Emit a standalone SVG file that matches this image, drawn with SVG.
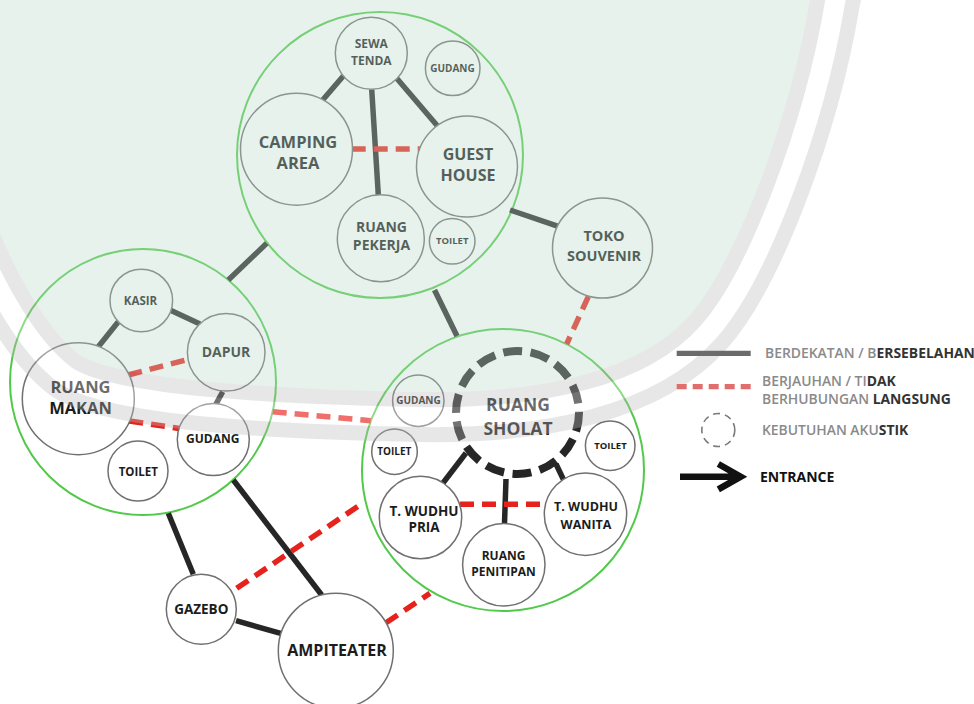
<svg xmlns="http://www.w3.org/2000/svg" width="974" height="704" viewBox="0 0 974 704">
<defs>
<style>
.lbl{font-family:"Open Sans","Liberation Sans",sans-serif;font-weight:700;fill:#1c1c1c;text-anchor:middle}
.node circle{fill:#ffffff;stroke:#707070;stroke-width:1.5}
.cluster{fill:none;stroke:#52c94a;stroke-width:2}
.solid{stroke:#262626;stroke-width:5.5;fill:none}
.dash{stroke:#e6221c;stroke-width:5.5;stroke-dasharray:14 8;fill:none}
.leg{font-family:"Open Sans","Liberation Sans",sans-serif;font-size:13.9px}
.lg{fill:#8a8a8a;font-weight:600}
.ld{fill:#333333;font-weight:700}
</style>
<path id="seal" d="M 830,-100 L -200,-100 L -200,0 L -60,0 C -45,150 20,310 80,355 C 120,382 300,390 420,392 C 540,394 640,372 690,315 C 735,264 790,120 810,0 Z"/>
</defs>
<rect width="974" height="704" fill="#ffffff"/>

<g id="clusters">
<circle class="cluster" cx="380" cy="155" r="143"/>
<circle class="cluster" cx="143" cy="382" r="133"/>
<circle class="cluster" cx="503" cy="470" r="141"/>
</g>

<g id="connectors">
<line class="solid" x1="343.3" y1="76" x2="322.7" y2="100"/>
<line class="solid" x1="371.7" y1="89.3" x2="378.3" y2="195"/>
<line class="solid" x1="396.7" y1="78.3" x2="437.3" y2="125.7"/>
<line class="solid" x1="510" y1="210" x2="559" y2="226.7"/>
<line class="solid" x1="266.7" y1="243.3" x2="228.3" y2="280"/>
<line class="solid" x1="434.5" y1="290" x2="457" y2="336"/>
<line class="solid" x1="118.3" y1="321.7" x2="98.3" y2="346.7"/>
<line class="solid" x1="170" y1="310" x2="200" y2="324"/>
<line class="solid" x1="222.7" y1="391.7" x2="216" y2="404"/>
<line class="solid" x1="168.3" y1="513.3" x2="193.3" y2="574.3"/>
<line class="solid" x1="233.3" y1="480" x2="321.7" y2="595"/>
<line class="solid" x1="236" y1="620.7" x2="280.7" y2="633.3"/>
<line class="solid" x1="443" y1="483" x2="466" y2="453"/>
<line class="solid" x1="504.5" y1="523.5" x2="506" y2="479"/>
<line class="solid" x1="563.3" y1="479.3" x2="556" y2="464"/>
<line class="dash" x1="351.7" y1="149" x2="422.3" y2="149"/>
<line class="dash" x1="588.3" y1="296.7" x2="566.7" y2="344"/>
<line class="dash" x1="128.3" y1="375" x2="185.7" y2="360"/>
<line class="dash" x1="129.3" y1="421" x2="180.7" y2="428.7"/>
<line class="dash" x1="272.7" y1="411.7" x2="370.7" y2="420.7"/>
<line class="dash" x1="460" y1="504.3" x2="546" y2="504.3"/>
<line class="dash" x1="236.7" y1="588.3" x2="363.3" y2="502.7"/>
<line class="dash" x1="386" y1="622.7" x2="430" y2="593.3"/>
</g>

<g id="sewa-tenda" class="node"><circle cx="371.3" cy="53.3" r="36"/>
<text class="lbl" font-size="12" x="371.3" y="48.3">SEWA</text><text class="lbl" font-size="12" x="371.3" y="64.8">TENDA</text></g>
<g id="gudang-top" class="node"><circle cx="452.7" cy="68.3" r="27.3"/>
<text class="lbl" font-size="10" x="452.5" y="71.8">GUDANG</text></g>
<g id="camping-area" class="node"><circle cx="296.5" cy="149.2" r="56"/>
<text class="lbl" font-size="16.5" x="298" y="147.6">CAMPING</text><text class="lbl" font-size="16.5" x="298" y="169.2">AREA</text></g>
<g id="guest-house" class="node"><circle cx="467" cy="166.5" r="50.5"/>
<text class="lbl" font-size="16" x="468" y="159.5">GUEST</text><text class="lbl" font-size="16" x="468" y="180.8">HOUSE</text></g>
<g id="ruang-pekerja" class="node"><circle cx="380.8" cy="238.3" r="43.5"/>
<text class="lbl" font-size="14" x="381.5" y="231.7">RUANG</text><text class="lbl" font-size="14" x="381.5" y="250">PEKERJA</text></g>
<g id="toilet-top" class="node"><circle cx="452.2" cy="241.3" r="22.8"/>
<text class="lbl" font-size="9.5" x="452.2" y="244.3">TOILET</text></g>
<g id="toko-souvenir" class="node"><circle cx="602.5" cy="248" r="50"/>
<text class="lbl" font-size="14.5" x="604" y="241.2">TOKO</text><text class="lbl" font-size="14.5" x="604" y="260.5">SOUVENIR</text></g>

<g id="kasir" class="node"><circle cx="141.3" cy="300.5" r="31.3"/>
<text class="lbl" font-size="11.5" x="140.5" y="305">KASIR</text></g>
<g id="dapur" class="node"><circle cx="226.2" cy="352.3" r="38.8"/>
<text class="lbl" font-size="14" x="226" y="356.5">DAPUR</text></g>
<g id="ruang-makan" class="node"><circle cx="78.3" cy="398.7" r="56"/>
<text class="lbl" font-size="16.5" x="80.5" y="392.6">RUANG</text><text class="lbl" font-size="16.5" x="80.5" y="414.2">MAKAN</text></g>
<g id="gudang-left" class="node"><circle cx="213.3" cy="439.5" r="36"/>
<text class="lbl" font-size="12" x="212.7" y="442.5">GUDANG</text></g>
<g id="toilet-left" class="node"><circle cx="138" cy="471" r="30"/>
<text class="lbl" font-size="11.5" x="138.3" y="476.4">TOILET</text></g>

<g id="ruang-sholat" class="node"><circle cx="517.5" cy="412.5" r="61.5" style="stroke:#262626;stroke-width:8;stroke-dasharray:19 8.5"/>
<text class="lbl" font-size="17.5" x="518" y="411.3">RUANG</text><text class="lbl" font-size="17.5" x="518" y="434.6">SHOLAT</text></g>
<g id="gudang-sholat" class="node"><circle cx="418.3" cy="400.7" r="25.7"/>
<text class="lbl" font-size="10" x="418.5" y="404">GUDANG</text></g>
<g id="toilet-sholat-left" class="node"><circle cx="394.5" cy="451.7" r="22.8"/>
<text class="lbl" font-size="10" x="394.3" y="455">TOILET</text></g>
<g id="toilet-sholat-right" class="node"><circle cx="610.2" cy="445.8" r="24.8"/>
<text class="lbl" font-size="9.5" x="610.5" y="449.4">TOILET</text></g>
<g id="t-wudhu-pria" class="node"><circle cx="420.5" cy="517.5" r="41.2"/>
<text class="lbl" font-size="13.5" x="424" y="515.9">T. WUDHU</text><text class="lbl" font-size="13.5" x="424" y="532.2">PRIA</text></g>
<g id="t-wudhu-wanita" class="node"><circle cx="585.5" cy="514.2" r="41.2"/>
<text class="lbl" font-size="12.5" x="586" y="511.2">T. WUDHU</text><text class="lbl" font-size="12.5" x="586" y="528.5">WANITA</text></g>
<g id="ruang-penitipan" class="node"><circle cx="503.8" cy="564.8" r="41.2"/>
<text class="lbl" font-size="12" x="503.5" y="560.3">RUANG</text><text class="lbl" font-size="12" x="503.5" y="576">PENITIPAN</text></g>

<g id="gazebo" class="node"><circle cx="201.3" cy="609.2" r="35"/>
<text class="lbl" font-size="13.5" x="201.3" y="613.9">GAZEBO</text></g>
<g id="ampiteater" class="node"><circle cx="335.8" cy="650.8" r="57.5"/>
<text class="lbl" font-size="16" x="337" y="655.8">AMPITEATER</text></g>

<g id="watermark" opacity="0.35">
<use href="#seal" fill="none" stroke="#bdbdbd" stroke-width="100"/>
<use href="#seal" fill="none" stroke="#ffffff" stroke-width="70"/>
<use href="#seal" fill="none" stroke="#bdbdbd" stroke-width="30"/>
<use href="#seal" fill="#bcdccb"/>
</g>

<g id="legend">
<line x1="676.7" y1="353.3" x2="750.7" y2="353.3" stroke="#6b6b6b" stroke-width="5.3"/>
<text class="leg" x="765" y="358.3"><tspan class="lg">BERDEKATAN / B</tspan><tspan class="ld">ERSEBELAHAN</tspan></text>
<line x1="676.7" y1="386.7" x2="750.7" y2="386.7" stroke="#e26d6d" stroke-width="5.3" stroke-dasharray="10 6"/>
<text class="leg" x="762" y="386"><tspan class="lg">BERJAUHAN / TI</tspan><tspan class="ld">DAK</tspan></text>
<text class="leg" x="762" y="404.3"><tspan class="lg">BERHUBUNGAN </tspan><tspan class="ld">LANGSUNG</tspan></text>
<circle cx="718.3" cy="430" r="16.5" fill="none" stroke="#7a7a7a" stroke-width="1.6" stroke-dasharray="7 5"/>
<text class="leg" x="762" y="435"><tspan class="lg">KEBUTUHAN AKU</tspan><tspan class="ld">STIK</tspan></text>
<path d="M680,476.7 H737 M718.3,464 L740.7,476.7 L718.3,489.4" fill="none" stroke="#111111" stroke-width="6.5"/>
<text class="leg" x="760" y="481.7" style="font-size:14px;font-weight:700;fill:#111111">ENTRANCE</text>
</g>
</svg>
